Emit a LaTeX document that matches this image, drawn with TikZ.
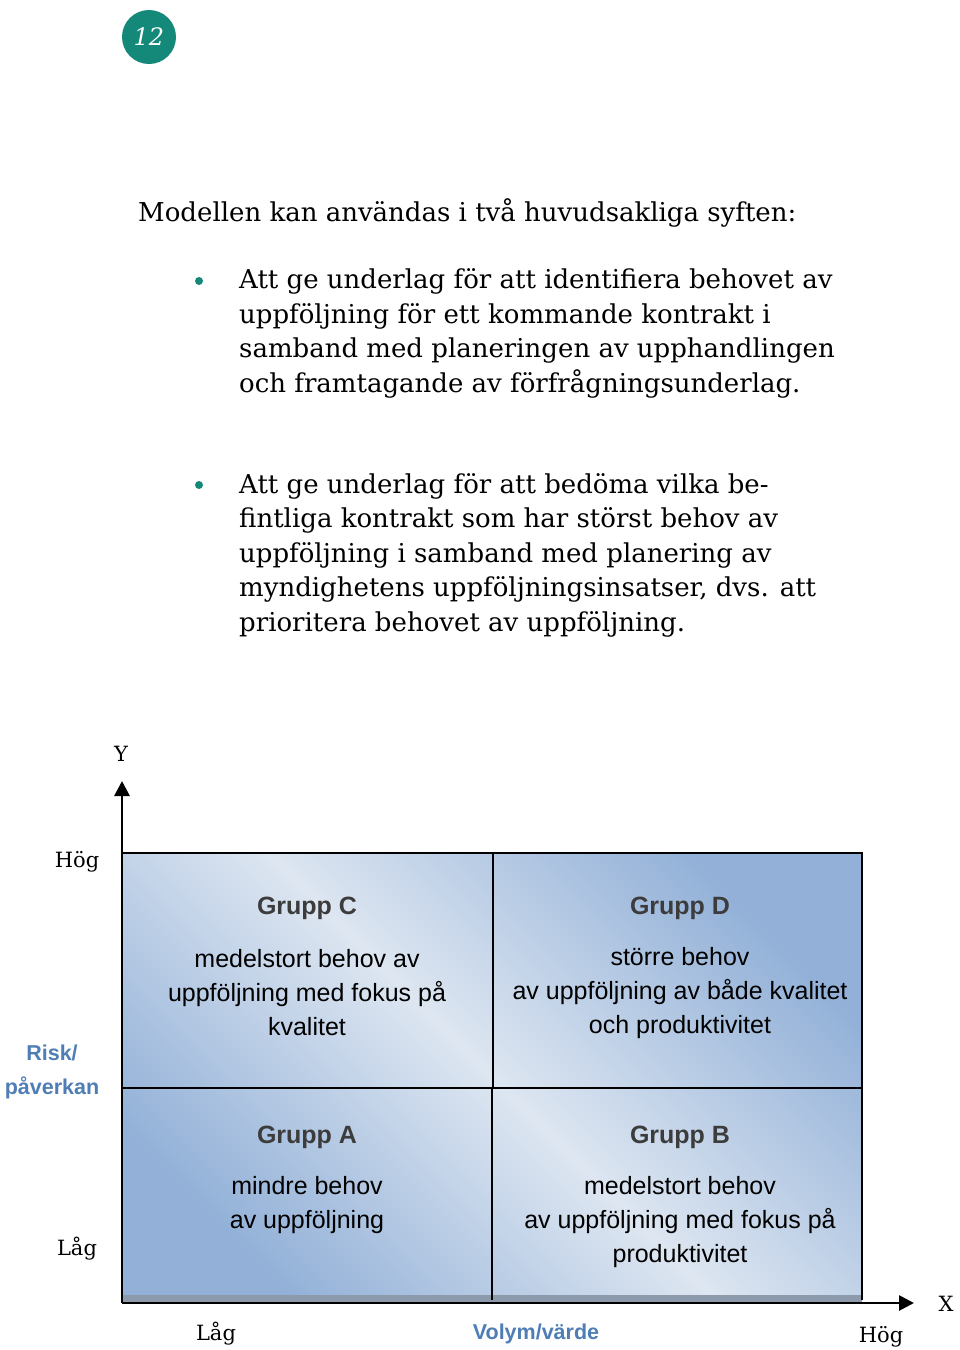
\documentclass[tikz,border=0pt]{standalone}
\usepackage{fontspec}
\usepackage{xcolor}
\usepackage{tikz}
\usetikzlibrary{arrows.meta,positioning}
\setmainfont{DejaVu Serif}
\newfontfamily\boxfont{Liberation Sans}
\definecolor{Teal}{HTML}{14897A}
\definecolor{AxisBlue}{HTML}{4F7DB5}
\definecolor{CellDark}{HTML}{93B1D8}
\definecolor{CellLight}{HTML}{DDE6F1}
\definecolor{HeadGray}{HTML}{3C3C3C}
\definecolor{Shadow}{HTML}{8C9AAC}

\begin{document}
\begin{tikzpicture}[x=1pt,y=-1pt,
  axis/.style={-{Triangle[length=15pt,width=15pt]},line width=2.8pt},
  cell/.style={draw,line width=2.5pt,minimum width=#1,minimum height=235pt,
               inner sep=0pt,outer sep=0pt},
  body/.style={anchor=base west,align=left,inner sep=0pt,
               font=\fontsize{26}{34.4}\selectfont},
  head/.style={font=\boxfont\bfseries\fontsize{25}{30}\selectfont,text=HeadGray},
  note/.style={align=center,font=\boxfont\fontsize{25}{34}\selectfont},
  scale label/.style={font=\fontsize{21}{28}\selectfont},
  axis name/.style={align=center,text=AxisBlue,font=\boxfont\bfseries\fontsize{21.5}{34}\selectfont}
]
  \useasboundingbox (0,0) rectangle (960,1350);

  % page number
  \node[circle,fill=Teal,minimum size=54pt,text=white,
        font=\itshape\fontsize{24}{30}\selectfont] (page) at (149,37) {12};

  % text above the model
  \node[body] (intro) at (138,221) {Modellen kan användas i två huvudsakliga syften:};

  \node[body] (first) at (239,392) {Att ge underlag för att identifiera behovet av\\
    uppföljning för ett kommande kontrakt i\\
    samband med planeringen av upphandlingen\\
    och framtagande av förfrågningsunderlag.};
  \node[body] (second) at (239,631) {Att ge underlag för att bedöma vilka be-\\
    fintliga kontrakt som har störst behov av\\
    uppföljning i samband med planering av\\
    myndighetens uppföljningsinsatser, dvs. att\\
    prioritera behovet av uppföljning.};
  \node[circle,fill=Teal,inner sep=0pt,minimum size=8pt] (dotA) at (199,281) {};
  \node[circle,fill=Teal,inner sep=0pt,minimum size=8pt] (dotB) at (199,485) {};

  % the four groups
  \shade[top color=CellDark,bottom color=CellDark,middle color=CellLight,shading angle=-45]
    (122,853) rectangle (862,1300);
  \fill[Shadow] (122,1295) rectangle (862,1302);

  \node[cell=371pt,anchor=north west] (grpC) at (122,853) {};
  \node[cell=369pt,anchor=north west] (grpD) at (grpC.north east) {};
  \node[cell=370pt,minimum height=212pt,anchor=north west,draw=none] (grpA) at (grpC.south west) {};
  \node[cell=370pt,minimum height=212pt,anchor=north west,draw=none] (grpB) at (grpA.north east) {};
  \draw[line width=2.5pt] (grpA.north east) -- (grpA.south east);
  \draw[line width=2.5pt] (grpB.north east) -- (grpB.south east);

  \node[head] (headC) at (307,908) {Grupp C};
  \node[note] (textC) at (307,993) {medelstort behov av\\uppföljning med fokus på\\kvalitet};
  \node[head] (headD) at (680,908) {Grupp D};
  \node[note] (textD) at (680,993) {större behov\\av uppföljning av både kvalitet\\och produktivitet};
  \node[head] (headA) at (307,1137) {Grupp A};
  \node[note] (textA) at (307,1205) {mindre behov\\av uppföljning};
  \node[head] (headB) at (680,1137) {Grupp B};
  \node[note] (textB) at (680,1222) {medelstort behov\\av uppföljning med fokus på\\produktivitet};

  % axes
  \coordinate (origin) at (122,1303);
  \coordinate (ytip) at (122,781);
  \coordinate (xtip) at (914,1303);
  \draw[axis] (origin) -- (ytip);
  \draw[axis] (origin) -- (xtip);

  \node[scale label] (ylab) at (121,754) {Y};
  \node[scale label] (xlab) at (946,1304) {X};
  \node[scale label] (yhigh) at (77,862) {Hög};
  \node[scale label] (ylow) at (77,1249) {Låg};
  \node[scale label] (xlow) at (216,1334) {Låg};
  \node[scale label] (xhigh) at (881,1337) {Hög};
  \node[axis name] (risk) at (52,1072) {Risk/\\påverkan};
  \node[axis name] (volume) at (536,1334) {Volym/värde};
\end{tikzpicture}
\end{document}
